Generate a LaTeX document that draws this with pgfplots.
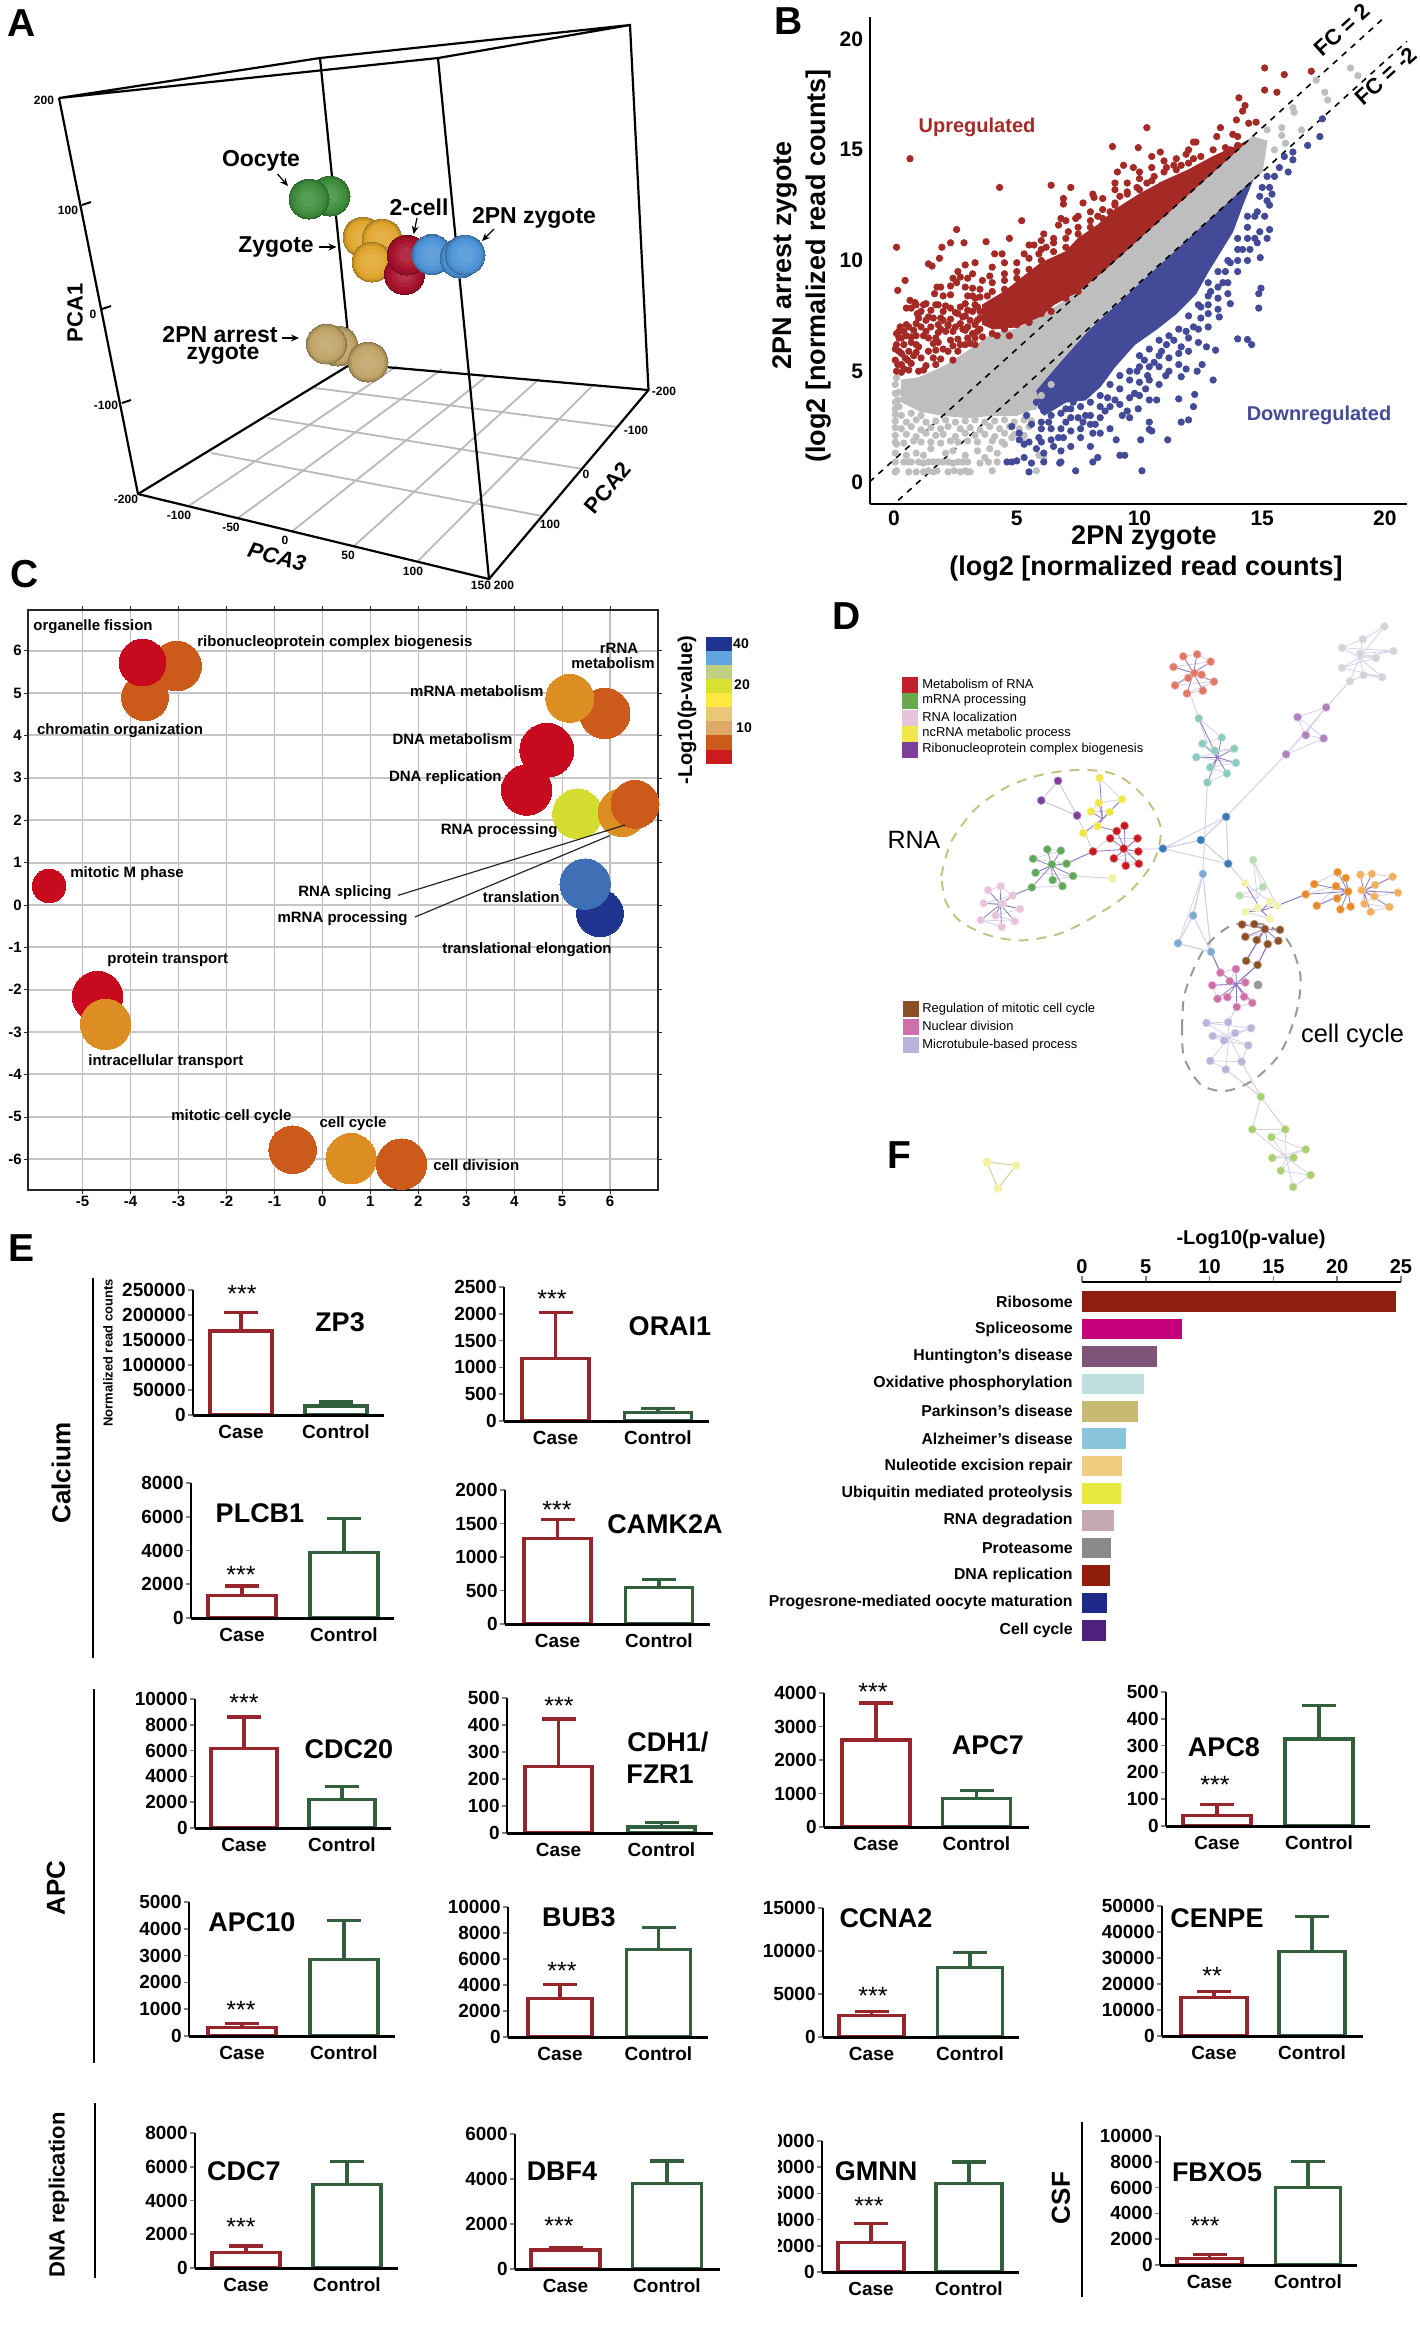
\documentclass[border=0pt]{standalone}
\usepackage{fontspec}
\setmainfont{Liberation Sans}
\usepackage{pgfplots}
\pgfplotsset{compat=1.18}
\usetikzlibrary{arrows.meta,plotmarks}
\definecolor{caseR}{HTML}{96262B}
\definecolor{ctrlG}{HTML}{33603C}
\definecolor{upR}{HTML}{A52A26}
\definecolor{dnB}{HTML}{434A98}
\definecolor{grayP}{HTML}{BEBEBE}
\definecolor{bRed}{HTML}{C70A1E}
\definecolor{bOr}{HTML}{CC5A1A}
\definecolor{bAm}{HTML}{DD8E22}
\definecolor{bLi}{HTML}{D4DC30}
\definecolor{bBl}{HTML}{3F6FB5}
\definecolor{bNv}{HTML}{1F348F}
\definecolor{sGr}{HTML}{3E8E3E}
\definecolor{sGo}{HTML}{E0A62E}
\definecolor{sRd}{HTML}{A8112B}
\definecolor{sBl}{HTML}{4E94D8}
\definecolor{sTn}{HTML}{C0A468}
\definecolor{nRed}{HTML}{C8181E}
\definecolor{nGrn}{HTML}{5FA85A}
\definecolor{nPnk}{HTML}{E8C4DA}
\definecolor{nYel}{HTML}{F0E64E}
\definecolor{nPur}{HTML}{7D3F98}
\definecolor{nBlu}{HTML}{3B78B5}
\definecolor{nLbl}{HTML}{7FAAD0}
\definecolor{nSal}{HTML}{E0786A}
\definecolor{nTea}{HTML}{8CCBBE}
\definecolor{nGry}{HTML}{D2D4DA}
\definecolor{nLpu}{HTML}{AE82BE}
\definecolor{nPgr}{HTML}{B8DDB0}
\definecolor{nPye}{HTML}{F2F2A8}
\definecolor{nOra}{HTML}{E88A28}
\definecolor{nLor}{HTML}{F0B060}
\definecolor{nBrn}{HTML}{8C5028}
\definecolor{nMag}{HTML}{D070A8}
\definecolor{nLav}{HTML}{B8B4DA}
\definecolor{nLgr}{HTML}{A8D070}
\definecolor{nDgy}{HTML}{999999}
\definecolor{hubE}{HTML}{8A78C0}
\definecolor{meshE}{HTML}{D4D0E8}
\definecolor{lgRed}{HTML}{C0202A}
\definecolor{lgGrn}{HTML}{6AA84F}
\definecolor{k1}{HTML}{1F348F}\definecolor{k2}{HTML}{5FA6E0}\definecolor{k3}{HTML}{C0D080}\definecolor{k4}{HTML}{D8E030}
\definecolor{k5}{HTML}{FFE840}\definecolor{k6}{HTML}{E8C878}\definecolor{k7}{HTML}{E0A868}\definecolor{k8}{HTML}{CC5A1A}\definecolor{k9}{HTML}{CC1A1E}
\definecolor{f1}{HTML}{8E1E10}\definecolor{f2}{HTML}{C4007A}\definecolor{f3}{HTML}{805478}\definecolor{f4}{HTML}{C0E0E0}
\definecolor{f5}{HTML}{C6BA70}\definecolor{f6}{HTML}{8AC4DC}\definecolor{f7}{HTML}{F0CC80}\definecolor{f8}{HTML}{E8E840}
\definecolor{f9}{HTML}{C4A8B4}\definecolor{f10}{HTML}{8A8A8A}\definecolor{f11}{HTML}{901C0C}\definecolor{f12}{HTML}{1F2A88}\definecolor{f13}{HTML}{50207F}

% 1px of the picture = 0.5pt
\newcommand{\geo}[4]{\def\ax{#1}\def\ay{#2}\def\ar{#3}\def\at{#4}}
\newcommand{\bars}[4]{\pgfmathsetmacro\cc{(#1+#2)/2}\pgfmathsetmacro\tc{(#3+#4)/2}\pgfmathsetmacro\bw{(#2-#1)*0.5}}
% ymax, ticks, case value, case error, control value, control error
\newcommand{\gene}[6]{%
\pgfmathsetmacro\aw{(\ar-\ax)*0.5}\pgfmathsetmacro\ah{(\ay-\at)*0.5}%
\begin{axis}[at={(\ax*0.5pt,-\ay*0.5pt)},anchor=south west,scale only axis,width=\aw pt,height=\ah pt,
  xmin=\ax,xmax=\ar,ymin=0,ymax=#1,ytick={#2},xtick={\cc,\tc},xticklabels={Case,Control},
  axis x line=bottom,axis y line=left,
  x axis line style={-,line width=1.5pt},y axis line style={-,line width=1pt},
  xtick style={draw=none},ytick style={line width=0.8pt},tick align=outside,major tick length=2.5pt,
  scaled y ticks=false,
  yticklabel style={/pgf/number format/fixed,/pgf/number format/1000 sep={},/pgf/number format/assume math mode=true,font=\bfseries\fontsize{9.5}{10}\selectfont,inner sep=1pt},
  xticklabel style={font=\bfseries\fontsize{9.5}{10}\selectfont,inner sep=0pt,yshift=-2.4pt},
  axis on top,clip=false]
\addplot[ybar,bar width=\bw pt,bar shift=0pt,fill=white,draw=caseR,line width=1.6pt,
  error bars/.cd,y dir=plus,y explicit,error bar style={caseR,line width=1.6pt},error mark options={rotate=90,caseR,mark size=8.5pt,line width=1.6pt}]
  coordinates {(\cc,#3) +- (0,#4)};
\addplot[ybar,bar width=\bw pt,bar shift=0pt,fill=white,draw=ctrlG,line width=1.6pt,
  error bars/.cd,y dir=plus,y explicit,error bar style={ctrlG,line width=1.6pt},error mark options={rotate=90,ctrlG,mark size=8.5pt,line width=1.6pt}]
  coordinates {(\tc,#5) +- (0,#6)};
\end{axis}}
\newcommand{\tx}[5][]{\node[inner sep=0pt,#1,font=\bfseries\fontsize{#2}{#2}\selectfont] at (#3,#4) {#5};}
\newcommand{\rg}[5][]{\node[inner sep=0pt,#1,font=\fontsize{#2}{#2}\selectfont] at (#3,#4) {#5};}
\newcommand{\bub}[4]{\addplot[only marks,mark=*,mark size=#2pt,mark options={draw=#1,fill=#1,line width=0pt}] coordinates {(#3,#4)};}
\newcommand{\ballring}[4]{\addplot[only marks,mark=*,mark size=#2pt,mark options={draw=#1,fill=#1,line width=0pt}] coordinates {(#3,#4)};}
\newcommand{\ball}[3]{%
  \ballring{#1!72!black}{10}{#2}{#3}\ballring{#1!82!black}{9.6}{#2}{#3}\ballring{#1!92!black}{9}{#2}{#3}\ballring{#1}{8}{#2}{#3}\ballring{#1!94!white}{6.2}{#2}{#3}\ballring{#1!88!white}{3.8}{#2}{#3}}
\newcommand{\netcl}[4][hubE]{%
  \gdef\edgepts{}\gdef\nodepts{}%
  \foreach \p in {#4}{\xdef\edgepts{\edgepts #2 \p}\xdef\nodepts{\nodepts \p}}%
  \edef\tmp{\noexpand\addplot[meshE,line width=0.4pt] coordinates {\nodepts};\noexpand\addplot[#1,line width=0.4pt] coordinates {\edgepts};\noexpand\addplot[only marks,mark=*,mark size=2pt,mark options={draw=#3!60!white,line width=0.3pt,fill=#3}] coordinates {\nodepts};}\tmp}
\newcommand{\lnk}[1]{\addplot[meshE,line width=0.5pt] coordinates {#1};}
\newcommand{\sq}[3]{\addplot[only marks,mark=square*,mark size=3.75pt,mark options={draw=#1,fill=#1,line width=0pt}] coordinates {(#2,#3)};}

\begin{document}
\begin{tikzpicture}
\useasboundingbox (0,0) rectangle (710pt,-1163pt);

% canvas in picture pixels: panel A and the colour key of panel C
\begin{axis}[at={(0,-1163pt)},anchor=south west,scale only axis,width=710pt,height=1163pt,
  xmin=0,xmax=1420,ymin=0,ymax=2326,y dir=reverse,axis lines=none,clip=false]
\addplot[gray!55,line width=0.9pt] coordinates {(190,505)(397,366)};
\addplot[gray!55,line width=0.9pt] coordinates {(238,518)(442,369)};
\addplot[gray!55,line width=0.9pt] coordinates {(292.5,531)(487.5,375.5)};
\addplot[gray!55,line width=0.9pt] coordinates {(354,546)(539,379)};
\addplot[gray!55,line width=0.9pt] coordinates {(417,562)(593,385)};
\addplot[gray!55,line width=0.9pt] coordinates {(315,388)(618,427)};
\addplot[gray!55,line width=0.9pt] coordinates {(267.6,418)(583,469)};
\addplot[gray!55,line width=0.9pt] coordinates {(211,453)(542,516)};
\addplot[black,line width=1.1pt] coordinates {(59,98)(138,494)(489,579)(648.5,390)(630,25)(320,58)(59,98)(438,58)(630,25)};
\addplot[black,line width=1.1pt] coordinates {(320,58)(351,364)(138,494)};
\addplot[black,line width=1.1pt] coordinates {(351,364)(648.5,390)};
\addplot[black,line width=1.1pt] coordinates {(438,58)(489,579)};
\addplot[black,line width=1pt] coordinates {(82,205)(91,202)};
\addplot[black,line width=1pt] coordinates {(102,309)(111,306)};
\addplot[black,line width=1pt] coordinates {(122,403)(131,400)};
\ball{sGr}{330}{196}
\ball{sGr}{309}{199}
\ball{sGo}{363}{237}
\ball{sGo}{382}{239}
\ball{sGo}{372}{262}
\ball{sRd}{404.5}{274.5}
\ball{sRd}{407}{255}
\ball{sBl}{432}{254.5}
\ball{sBl}{460}{258}
\ball{sBl}{465}{255}
\ball{sTn}{338}{346}
\ball{sTn}{326.5}{344}
\ball{sTn}{368}{362}
% colour key C
\addplot[fill=k1,draw=none] coordinates {(706,637)(732,637)(732,651)(706,651)};
\addplot[fill=k2,draw=none] coordinates {(706,651)(732,651)(732,665)(706,665)};
\addplot[fill=k3,draw=none] coordinates {(706,665)(732,665)(732,679)(706,679)};
\addplot[fill=k4,draw=none] coordinates {(706,679)(732,679)(732,693)(706,693)};
\addplot[fill=k5,draw=none] coordinates {(706,693)(732,693)(732,707)(706,707)};
\addplot[fill=k6,draw=none] coordinates {(706,707)(732,707)(732,721)(706,721)};
\addplot[fill=k7,draw=none] coordinates {(706,721)(732,721)(732,735)(706,735)};
\addplot[fill=k8,draw=none] coordinates {(706,735)(732,735)(732,750)(706,750)};
\addplot[fill=k9,draw=none] coordinates {(706,750)(732,750)(732,764)(706,764)};
\end{axis}

% panel B
\begin{axis}[at={(870*0.5pt,-504*0.5pt)},anchor=south west,scale only axis,width=268.5pt,height=243.5pt,
  xmin=-0.98,xmax=20.9,ymin=-1,ymax=21,xtick={0,5,...,20},ytick={0,5,...,20},
  axis x line=bottom,axis y line=left,axis line style={-,line width=1.1pt},major tick length=0pt,
  tick label style={/pgf/number format/assume math mode=true,font=\bfseries\fontsize{10.5}{11}\selectfont},clip=false]
\addplot[fill=grayP,draw=grayP] coordinates {(0.3,3.6)(0.3,4.6)(1,4.7)(2,5.2)(3,5.9)(4,6.7)(5,6.9)(6,7.5)(7,8.2)(8,9)(14.6,15.6)(15.2,15.4)(15,14)(8,7)(6.8,5.3)(6,4)(5.7,3.3)(5,3)(4,3)(3,2.9)(2,3)(1,3.2)};
\addplot[only marks,mark=*,mark size=1.6pt,grayP] coordinates {
(0.05,0.45)(0.1,0.5)(0.6,0.45)(0.9,0.45)(1.2,0.45)(1.4,0.5)(1.6,0.45)(1.75,0.5)(2.2,0.45)(2.45,0.5)(2.7,0.45)(2.9,0.5)(3,0.45)(3.1,0.45)(4,0.5)
(0.05,0.9)(0.4,0.9)(0.6,0.9)(0.7,0.9)(1,0.9)(1.2,0.85)(1.4,0.9)(1.6,0.9)(1.8,0.9)(2,0.9)(2.2,0.9)(2.4,0.85)(2.6,0.9)(2.8,0.9)(3,0.9)(3.5,0.85)(3.85,0.9)(4.2,0.9)(5.8,0.5)
(0.05,1.3)(0.1,1.7)(0.5,1.2)(0.9,1.3)(1.2,1.2)(1.5,1.5)(2.1,1.3)(2.4,1.4)(2.9,1.2)(3.4,1.4)(3.7,1.1)(3.9,1.5)(4.2,1.3)(4.5,1.7)(4.8,2)(5.2,1.9)(5.9,1.2)(6.1,1.1)
(0.05,1.8)(0.4,1.75)(0.8,1.85)(1.1,1.8)(1.5,1.8)(1.9,1.75)(2.3,1.85)(2.6,1.8)(3,1.85)(3.4,1.8)(4,1.85)(4.4,1.8)
(0.05,2.1)(0.5,2.15)(0.9,2.05)(1.3,2.2)(1.7,2.1)(2,2.15)(2.5,2.05)(2.9,2.2)(3.3,2.1)(3.7,2.15)(4.1,2.05)(4.5,2.2)(4.9,2.15)(5.3,2.1)
(0.05,2.45)(0.3,2.4)(0.7,2.5)(1.1,2.35)(1.5,2.45)(1.9,2.4)(2.2,2.5)(2.7,2.4)(3.1,2.45)(3.5,2.35)(3.9,2.5)(4.3,2.4)(4.7,2.5)(5.1,2.4)(5.5,2.5)
(0.05,2.75)(0.5,2.7)(0.9,2.8)(1.3,2.7)(1.7,2.75)(2.1,2.8)(2.5,2.7)(2.9,2.75)(3.3,2.8)(3.7,2.7)(4.1,2.75)(4.5,2.8)(4.9,2.7)(5.3,2.8)(5.6,2.75)
(0.05,3.05)(0.3,3)(0.7,3.1)(1.1,3)(0.05,3.3)(0.2,3.4)(0.05,3.6)(0.15,3.7)(0.05,4)(0.2,4.05)(0.05,4.4)(0.1,4.7)(5.7,3.4)(6,3.9)(6.4,4.4)
(15.2,15.9)(15.8,16)(15.8,15.65)(15.95,15.3)(15.5,15)(14.8,15.3)(16.25,16.9)(16.3,16.7)(16.6,15.9)(17.2,18.15)(17.55,17.6)(17.67,17.25)(18.6,18.7)(18.9,18.35)};
\addplot[fill=upR,draw=upR] coordinates {(3.6,7.1)(3.6,8)(4.5,8.6)(5.3,9.3)(6,9.9)(7,10.4)(7.5,11)(8.3,11.6)(9,12.3)(10,13)(11,13.6)(12,14.1)(13,14.7)(14.4,15.4)(8.5,9.5)(7.5,8.6)(6.5,8)(6,7.5)(5,7)(4,6.9)};
\addplot[only marks,mark=*,mark size=1.6pt,upR] coordinates {
(0.65,14.6)(4.3,13.3)(0.1,10.6)(0.45,9.1)(0.15,8.65)(2.55,11.4)(2.3,10.8)(1.95,10.6)(2.85,10.8)(1.85,10.1)(1.4,9.85)(1.55,9.75)(3.75,10.85)(4.7,11)(5.2,11.8)(6.4,13.4)(7.2,13.3)(6.9,12.8)(6.9,12.55)(7.7,12.6)(8.1,13)(8.15,12.85)(8.9,15.15)(9.95,15.1)(10.3,16)(9.1,14)(9.35,14.3)(9.75,14.2)(10.5,14.7)(10.85,14.9)(12.2,15.35)(12.3,15.35)(13.3,16)(13.95,16.35)(14.05,17.35)(14.3,17)(14.2,16.75)(14.45,16.2)(14.75,16.25)(15.1,18.7)(15.1,17.7)(15.6,17.6)(15.9,18.4)(17,18.55)(13.15,15.6)(13.8,15.7)(14,15.6)
(0.05,5.5)(0.05,6)(0.1,6.7)(0.2,6.8)(0.25,7)(0.2,6.5)(0.4,6.2)(0.5,6.6)(0.6,7)(0.5,7.85)(0.7,7.85)(0.65,8.2)(0.85,8.1)(0.95,7.6)(1.1,7)(1.2,6.6)(1,6.1)(0.8,5.7)(0.55,5.5)(0.3,5.3)(0.4,5.1)(1.1,5.6)(1.4,5.9)(1.4,6.5)(1.5,7)(1.6,7.4)(1.7,8)(1.65,8.5)(1.75,8.8)(2,7.3)(2.1,6.8)(2.3,6.4)(2.2,5.9)(2.5,7)(2.6,7.6)(2.7,7.9)(2.3,7.85)(2.9,7.5)(3,7)(3.2,7.7)(3.4,7.9)(2.55,9)(2.6,9.5)(2.9,9.8)(3.2,9.4)(3.3,9.9)(3.5,8.7)(3.6,9.1)(3.9,9.3)(4,9.7)(4.1,10.3)(4.4,10.3)(4.5,9.4)(3.8,8.4)(4.5,8.7)(5,9.5)(5.3,10.3)(5.5,10.7)(5.7,10.7)(5.9,10.3)(6.2,10.6)(6.5,11)(6.1,11.2)(6.7,11.6)(6.8,11.9)(7,11.8)(7.1,11.3)(7.5,11.2)(7.4,11.9)(8,11.5)(8.3,12)(8.5,12.3)(8.8,12.2)(9,12.6)(9.2,12.9)(9.5,13)(9.9,13.3)(10,13.7)(10.3,13.5)(10.6,13.8)(10.9,13.4)(11.1,14.2)(11.4,14.3)(11.7,14.3)(11.9,14.8)(12.2,14.6)(12.5,14.2)(12.9,14.3)(13.2,14.5)(13.5,14.8)(13.7,15)(14,15.2)(2,6)(3,6.5)(3.5,6.9)(4,7.2)(4.2,6.6)(4.7,6.6)(5,7.1)(5.5,7.2)(1.8,6.3)(2.7,6.2)(3.2,6.7)(3.4,7.3)(0.9,6.6)(1.3,7.3)(0.3,5.8)(0.7,6.3)(2.4,5.5)(2.8,6.9)(3.1,7.3)(2.2,7.1)(1.9,6.9)(1.2,8)(3.9,8)(3.3,8.3)(3,8.4)
(0.1,5)(0.3,4.95)(0.6,5.05)(1,5)(1.2,5.05)(0.15,5.3)(0.7,5.35)(1.3,5.25)(1.7,5.3)(0.45,5.6)(1.6,5.6)(1.9,5.55)(0.2,5.9)(0.6,5.9)(0.9,5.85)(1.7,5.95)(2.6,5.9)(0.1,6.2)(0.9,6.2)(1.6,6.25)(2.4,6.15)(2.9,6.2)(3.1,6.25)(0.3,6.5)(0.7,6.55)(1.7,6.5)(2.6,6.45)(3.3,6.5)(3.6,6.55)(0.4,6.8)(0.8,6.85)(1.3,6.8)(1.8,6.75)(2.4,6.8)(2.9,6.85)(3.4,6.8)(0.5,7.1)(0.9,7.15)(1.8,7.1)(2.2,7.05)(2.7,7.15)(3.3,7.1)(1,7.4)(1.4,7.45)(1.9,7.4)(2.3,7.35)(2.8,7.45)(3.5,7.4)(1.1,7.7)(1.5,7.75)(2,7.7)(2.5,7.65)(3,7.75)(3.5,7.7)(0.9,8)(1.3,8.05)(1.8,8)(2.1,7.95)(2.9,8.05)(3.3,8)(2,8.4)(2.3,8.45)(3.2,8.4)(3.5,8.35)(1.9,8.8)(2.3,8.85)(2.9,8.8)(3.2,8.75)(2.4,9.2)(2.7,9.25)(3,9.2)
(4,8.6)(4,9)(4.5,9.1)(4.5,9.9)(5,9.2)(5,9.9)(5.5,9.6)(5.5,10.1)(6,10)(6,10.5)(6,10.9)(6.5,10.4)(6.5,10.8)(7,10.6)(7,11)(7.5,11.5)(7.5,12)(8,11.8)(8,12.2)(8.5,11.9)(8.5,12.8)(9,12.5)(9,13.2)(9,13.5)(9.5,13.1)(9.5,13.5)(10,13.2)(10,14)(10.5,13.6)(10.5,14.2)(11,14)(11,14.5)(11.5,14.1)(11.5,14.6)(12,14.4)(12,15)(12.5,14.7)(13,15)(13.5,15.1)
(3.3,6.2)(4,6.7)(4.5,6.9)(5.5,7.25)(6,7.6)(6.4,7.7)(7,8.3)(7.5,8.6)};
\addplot[fill=dnB,draw=dnB] coordinates {(5.8,4.1)(6.8,5.4)(8,6.9)(14.6,13.6)(14.2,12.5)(13.8,11.3)(13.3,10.4)(12.8,9.5)(12.3,8.5)(11.5,7.6)(10.7,6.9)(9.8,6.2)(9,5.2)(8.4,4.3)(7.8,3.7)(7,3.6)(6.4,3.2)(6.1,3)};
\addplot[only marks,mark=*,mark size=1.6pt,dnB] coordinates {
(14,6.46)(14.4,6.43)(14.57,6.2)(14.86,7.85)(14.86,8.5)(14.95,8.75)(14.92,10.13)(15.3,11.4)(17.35,15.6)(17.45,16.4)(16.85,15.2)(16.25,14.9)(16.25,14.55)(16.06,14)(15.9,14.7)(13,4.6)(13.1,5.95)(12.73,6.1)(13.7,8.05)(13.25,7.45)(11.15,1.9)(10.1,0.5)(7.4,0.5)(5.5,0.45)(12,2.8)(11.7,2.7)(12.2,3.4)(11.6,3.75)(12.25,3.95)(10.4,2.7)(10.4,2.37)(10.5,2.3)(10.05,1.9)(9.05,1.9)(9.4,1.2)(9.2,1.2)(8.1,0.9)(8.3,1.1)(10.7,3.7)(10.4,3.7)(9.95,3.3)(10.25,4.2)(10.33,4.8)(11.07,4.8)(11.7,4.75)(11.9,5.1)(12.35,5)(12.55,5.3)
(4.6,0.9)(4.8,0.9)(5,0.95)(5.3,1.1)(5.6,0.85)(6.1,0.9)(6.75,0.85)(6.8,0.9)(6.1,1.3)(6.5,1.6)(5.8,1.5)(5.3,1.7)(5.1,1.9)(5.5,1.8)(4.8,2.5)(5.1,2.2)(5.9,2)(6,2.4)(6.3,2.7)(6.7,2)(6.9,2)(7.2,2.3)(7,2.7)(7.5,2.9)(7.7,2.7)(7.8,3)(8,3)(8.4,2.9)(8.1,2.2)(8.2,2.6)(8.6,3.2)(8.7,3.8)(9,3.7)(9.3,3)(9.5,3.2)(9.6,3.8)(9.8,4)(6.1,3.2)(6.5,3.5)(7,3.3)(7.3,3.6)(9.9,5)(10.2,5.5)(10.6,5.4)(10.9,5.9)(11.1,6.2)(11.4,6.4)(11.7,6.1)(11.9,6.8)(12.2,7)(12.5,7.4)(12.5,7.9)(12.8,8)(12.9,8.6)(13.2,8.3)(13.4,9)(13.5,9.5)(13.7,9.9)(14,10)(14.2,10.5)(14.5,10.5)(14.7,11)(14.9,11.3)(15.1,12)(15.3,12.5)(15.4,13)(14.4,11.5)(14.7,12)(14.9,12.9)(15,13.3)(15.3,13.3)(15.5,13.8)(15.7,14.2)
(6,1.8)(6,2.7)(6,3.4)(6.4,1.9)(6.4,2.4)(6.4,3)(6.8,1.4)(6.8,2.4)(6.8,3.1)(7.2,1.6)(7.2,2.9)(7.2,3.3)(7.6,2)(7.6,2.4)(7.6,3.4)(8,1.6)(8,2.6)(8,3.6)(8.4,2.2)(8.4,3.4)(8.4,3.9)(8.8,2.4)(8.8,3.4)(8.8,4.4)(9.2,3.5)(9.2,4.2)(9.2,4.8)(9.6,2.9)(9.6,4.6)(9.6,5)(10,3.9)(10,4.5)(10,5.2)(10,5.7)(10.4,4.6)(10.4,5.2)(10.4,6)(10.8,4.4)(10.8,5.2)(10.8,5.7)(10.8,6.4)(11.2,5)(11.2,5.6)(11.2,6.6)(11.6,5.3)(11.6,5.8)(11.6,6.9)(12,5.9)(12,6.5)(12,7.5)(12.4,6.3)(12.4,6.9)(12.4,8)(12.8,7)(12.8,7.6)(12.8,8.4)(12.8,9)(13.2,7.8)(13.2,8.8)(13.2,9.5)(13.6,8.5)(13.6,9)(13.6,10)(14,9.5)(14,10.5)(14,11)(14.4,10)(14.4,11)(14.4,12)(14.8,10.8)(14.8,12.2)(15.2,11)(15.2,12.7)(15.2,13.8)(5.8,3.6)(5.4,3)(5.6,2.6)};
\addplot[black,dashed,line width=0.8pt] coordinates {(-1,0)(19.94,20.94)};
\addplot[black,dashed,line width=0.8pt] coordinates {(0.17,-0.83)(20.9,19.9)};
\end{axis}

% panel C
\begin{axis}[at={(28*0.5pt,-1190*0.5pt)},anchor=south west,scale only axis,width=315pt,height=290pt,
  xmin=-6.14,xmax=7,ymin=-6.73,ymax=6.96,xtick={-5,...,6},ytick={-6,...,6},
  grid=major,x grid style={gray!50,line width=0.6pt},y grid style={gray!45,line width=1pt},axis line style={gray!30!black,line width=0.9pt},
  tick align=outside,major tick length=2pt,tick style={gray!30!black},
  tick label style={/pgf/number format/assume math mode=true,font=\bfseries\fontsize{7.5}{8}\selectfont,inner sep=1pt},clip=false]
\bub{bOr}{11.7}{-3.70}{4.90}
\bub{bOr}{12.4}{-3.04}{5.64}
\bub{bRed}{11.7}{-3.75}{5.72}
\bub{bRed}{8.4}{-5.70}{0.45}
\bub{bRed}{12.6}{-4.69}{-2.16}
\bub{bAm}{12.6}{-4.52}{-2.82}
\bub{bOr}{11.9}{-0.62}{-5.78}
\bub{bAm}{12.6}{0.60}{-5.99}
\bub{bOr}{12.6}{1.65}{-6.12}
\bub{bOr}{12.6}{5.89}{4.52}
\bub{bAm}{12}{5.16}{4.875}
\bub{bRed}{13.5}{4.68}{3.65}
\bub{bRed}{12.6}{4.26}{2.71}
\bub{bLi}{12.4}{5.32}{2.15}
\bub{bAm}{12}{6.25}{2.18}
\bub{bOr}{12}{6.52}{2.375}
\bub{bNv}{11.7}{5.79}{-0.20}
\bub{bBl}{12.6}{5.48}{0.49}
\end{axis}

% panel D, in coordinates of a 640 px square
\begin{axis}[at={(780*0.5pt,-1220*0.5pt)},anchor=south west,scale only axis,width=320pt,height=320pt,
  xmin=0,xmax=1568,ymin=0,ymax=1568,y dir=reverse,axis lines=none,clip=false]
\lnk{(938,658)(1031,637)(1093,580)(1098,695)(1031,637)}
\lnk{(938,658)(1098,695)(1139,743)}
\lnk{(938,658)(1093,580)(1240,427)(1338,312)(1396,248)}
\lnk{(1005,280)(1026,339)(1047,400)}
\lnk{(1047,496)(1036,720)(1056,911)(975,890)(1012,822)(1036,720)}
\lnk{(1012,822)(1056,911)(1079,962)}
\lnk{(1092,1199)(1178,1266)(1157,1346)}
\lnk{(1131,1180)(1178,1266)(1238,1346)}
\lnk{(617,753)(570,773)}
\lnk{(702,695)(767,665)(728,577)(681,492)(640,540)(728,577)}
\lnk{(880,660)(938,658)}
\lnk{(718,725)(814,731)}
\lnk{(1218,798)(1159,686)}
\lnk{(1119,1046)(1098,1083)}
\addplot[hubE,line width=0.6pt] coordinates {(1142,933)(1188,855)};
\addplot[hubE,line width=0.6pt] coordinates {(1170,943)(1195,892)};
\addplot[hubE,line width=0.6pt] coordinates {(1170,943)(1117,990)};
\addplot[hubE,line width=0.5pt] coordinates {(1218,798)(1288,770)};
\addplot[hubE,line width=0.5pt] coordinates {(1056,911)(1079,962)};
\addplot[hubE,line width=0.4pt] coordinates {(702,695)(767,665)};
\addplot[hubE,line width=0.4pt] coordinates {(617,753)(570,773)};
\addplot[hubE,line width=0.4pt] coordinates {(778,603)(825,615)};
\netcl{(845,660)}{nRed}{(767,665),(825,615),(844,602),(809,633),(876,633),(842,658),(878,665),(818,682),(879,695),(847,700)}
\netcl{(665,700)}{nGrn}{(655,660),(688,663),(620,683),(702,695),(666,697),(626,717),(718,725),(668,735),(692,750),(617,753)}
\netcl{(540,795)}{nPnk}{(510,760),(541,750),(570,773),(499,792),(545,793),(588,806),(528,822),(575,836),(492,833),(543,850)}
\netcl{(790,585)}{nYel}{(783,485),(838,537),(781,546),(762,567),(808,568),(778,603),(743,620)}
\netcl[meshE]{(728,577)}{nPur}{(681,492),(640,540),(728,577)}
\netcl[meshE]{(1031,637)}{nBlu}{(938,658),(1031,637),(1093,580),(1098,695)}
\netcl[meshE]{(1036,720)}{nLbl}{(1036,720),(1012,822),(975,890),(1056,911)}
\netcl{(1013,228)}{nSal}{(988,187),(1022,182),(1055,200),(964,213),(1015,228),(1033,232),(1000,240),(968,258),(1063,249),(997,278),(1036,271)}
\netcl{(1072,435)}{nTea}{(1026,339),(1082,386),(1035,401),(1065,418),(1113,413),(1020,434),(1117,448),(1054,459),(1095,474),(1047,496)}
\netcl[meshE]{(1420,190)}{nGry}{(1481,114),(1428,145),(1377,166),(1503,174),(1422,180),(1460,191),(1377,215),(1475,238),(1430,233),(1396,248)}
\netcl[meshE]{(1300,360)}{nLpu}{(1338,312),(1268,336),(1288,380),(1332,388),(1240,427)}
\netcl[meshE]{(1170,780)}{nPgr}{(1159,686),(1183,752),(1126,773)}
\netcl{(1180,810)}{nPye}{(1139,743),(1200,788),(1218,798),(1170,803),(1140,813),(1200,830)}
\netcl{(1392,763)}{nOra}{(1366,716),(1309,745),(1288,770),(1362,750),(1392,763),(1386,730),(1315,798),(1365,780),(1373,807),(1398,800)}
\netcl{(1430,762)}{nLor}{(1422,722),(1450,720),(1501,727),(1458,747),(1425,760),(1514,766),(1456,775),(1432,793),(1493,801),(1447,813)}
\netcl{(1188,855)}{nBrn}{(1132,844),(1162,843),(1188,855),(1225,857),(1140,874),(1168,882),(1195,892),(1221,884)}
\netcl[meshE]{(1156,938)}{nBrn}{(1142,933),(1170,943)}
\netcl{(1118,990)}{nMag}{(1079,962),(1117,953),(1102,983),(1140,986),(1059,993),(1072,1026),(1096,1022),(1137,1021),(1157,1036),(1119,1046)}
\netcl[meshE]{(1100,1120)}{nLav}{(1098,1083),(1045,1085),(1154,1098),(1115,1110),(1060,1117),(1088,1128),(1147,1140),(1131,1180),(1054,1178),(1092,1199)}
\netcl[meshE]{(1240,1415)}{nLgr}{(1157,1346),(1238,1346),(1204,1365),(1288,1395),(1206,1416),(1258,1415),(1227,1447),(1300,1458),(1257,1487)}
\addplot[only marks,mark=*,mark size=2pt,mark options={draw=nLgr!60!white,line width=0.3pt,fill=nLgr}] coordinates {(1178,1266)};
\addplot[only marks,mark=*,mark size=2pt,mark options={draw=nDgy,fill=nDgy}] coordinates {(1171,992)};
\addplot[only marks,mark=*,mark size=2pt,mark options={draw=nYel!50!white,line width=0.3pt,fill=nPye}] coordinates {(814,731)};
\addplot[nPye!70!gray,line width=0.5pt,mark=*,mark size=2pt,mark options={draw=nYel!50!white,line width=0.3pt,fill=nPye}] coordinates {(507,1426)(578,1434)(534,1491)(507,1426)};
\addplot[smooth,dashed,dash pattern=on 5pt off 4pt,color=brown!40!yellow!50!gray!70!white,line width=1pt] coordinates {(395,725)(420,640)(480,560)(560,505)(650,475)(745,465)(830,480)(900,540)(933,610)(915,690)(850,770)(760,830)(680,868)(590,883)(510,870)(440,835)(405,785)(395,725)};
\addplot[smooth,dashed,dash pattern=on 5pt off 4pt,color=gray!80,line width=1pt] coordinates {(985,1100)(990,1020)(1015,950)(1050,890)(1110,845)(1190,845)(1245,885)(1275,970)(1265,1060)(1225,1160)(1160,1225)(1090,1252)(1030,1235)(990,1170)(985,1100)};
\sq{lgRed}{318}{257}
\sq{lgGrn}{318}{297}
\sq{nPnk}{318}{337}
\sq{nYel}{318}{377}
\sq{nPur}{318}{416}
\sq{nBrn}{322}{1052}
\sq{nMag}{322}{1094}
\sq{nLav}{322}{1140}
\end{axis}

% panel F
\begin{axis}[at={(1082*0.5pt,-1650*0.5pt)},anchor=south west,scale only axis,width=159.5pt,height=184pt,
  xmin=0,xmax=25,ymin=-0.72,ymax=12.72,y dir=reverse,
  xtick={0,5,...,25},ytick={0,...,12},
  yticklabels={Ribosome,Spliceosome,Huntington's disease,Oxidative phosphorylation,Parkinson's disease,Alzheimer's disease,Nuleotide excision repair,Ubiquitin mediated proteolysis,RNA degradation,Proteasome,DNA replication,Progesrone-mediated oocyte maturation,Cell cycle},
  axis x line*=top,axis y line*=left,y axis line style={draw=none},x axis line style={-,line width=1pt},
  ytick style={draw=none},xtick style={line width=0.8pt},xtick align=outside,major tick length=3pt,
  xticklabel style={/pgf/number format/assume math mode=true,font=\bfseries\fontsize{10}{11}\selectfont,inner sep=1pt},
  yticklabel style={font=\bfseries\fontsize{7.9}{8}\selectfont,inner sep=1.5pt},
  xbar,bar width=10.3pt,bar shift=0pt,clip=false]
\addplot[fill=f1,draw=none] coordinates {(24.6,0)};
\addplot[fill=f2,draw=none] coordinates {(7.87,1)};
\addplot[fill=f3,draw=none] coordinates {(5.9,2)};
\addplot[fill=f4,draw=none] coordinates {(4.89,3)};
\addplot[fill=f5,draw=none] coordinates {(4.38,4)};
\addplot[fill=f6,draw=none] coordinates {(3.41,5)};
\addplot[fill=f7,draw=none] coordinates {(3.15,6)};
\addplot[fill=f8,draw=none] coordinates {(3.08,7)};
\addplot[fill=f9,draw=none] coordinates {(2.54,8)};
\addplot[fill=f10,draw=none] coordinates {(2.31,9)};
\addplot[fill=f11,draw=none] coordinates {(2.21,10)};
\addplot[fill=f12,draw=none] coordinates {(1.94,11)};
\addplot[fill=f13,draw=none] coordinates {(1.87,12)};
\end{axis}

% panel E
\geo{193}{1415}{384}{1290}\bars{210}{272}{304}{368}\gene{250000}{0,50000,100000,150000,200000,250000}{168000}{37000}{18000}{8000}
\geo{504}{1421}{709}{1287}\bars{522}{589}{624}{692}\gene{2500}{0,500,1000,1500,2000,2500}{1170}{860}{160}{75}
\geo{191}{1618}{394}{1483}\bars{208}{276}{310}{378}\gene{8000}{0,2000,4000,6000,8000}{1350}{550}{3900}{2000}
\geo{505}{1624}{710}{1490}\bars{524}{591}{625}{693}\gene{2000}{0,500,1000,1500,2000}{1280}{280}{550}{120}
\geo{195}{1828}{391}{1699}\bars{211}{277}{309}{375}\gene{10000}{0,2000,4000,6000,8000,10000}{6150}{2450}{2200}{1050}
\geo{507}{1833}{713}{1698}\bars{525}{592}{628}{695}\gene{500}{0,100,200,300,400,500}{245}{177}{22}{16}
\geo{189}{2036}{395}{1902}\bars{208}{276}{310}{378}\gene{5000}{0,1000,2000,3000,4000,5000}{330}{150}{2850}{1450}
\geo{508}{2037}{708}{1907}\bars{528}{592}{626}{691}\gene{10000}{0,2000,4000,6000,8000,10000}{2950}{1100}{6750}{1700}
\geo{824}{1827}{1029}{1693}\bars{842}{910}{942}{1011}\gene{4000}{0,1000,2000,3000,4000}{2600}{1100}{850}{250}
\geo{1166}{1826}{1370}{1692}\bars{1183}{1251}{1285}{1353}\gene{500}{0,100,200,300,400,500}{38}{42}{325}{125}
\geo{823}{2037}{1019}{1908}\bars{839}{904}{937}{1003}\gene{15000}{0,5000,10000,15000}{2500}{500}{8100}{1700}
\geo{1162}{2036}{1363}{1906}\bars{1181}{1247}{1279}{1345}\gene{50000}{0,10000,20000,30000,40000,50000}{14800}{2200}{32500}{13500}
\geo{195}{2268}{398}{2133}\bars{212}{280}{313}{381}\gene{8000}{0,2000,4000,6000,8000}{900}{400}{4950}{1350}
\geo{515}{2269}{720}{2134}\bars{531}{600}{633}{701}\gene{6000}{0,2000,4000,6000}{850}{100}{3800}{1000}
\geo{822}{2272}{1019}{2141}\bars{838}{904}{936}{1002}\gene{10000}{0,2000,4000,6000,8000,10000}{2250}{1450}{6750}{1650}
\geo{1160}{2265}{1357}{2136}\bars{1177}{1242}{1275}{1341}\gene{10000}{0,2000,4000,6000,8000,10000}{480}{340}{6000}{2000}

% text and rules, in picture pixels
\begin{scope}[x=0.5pt,y=-0.5pt]
\fill[white] (725,2130) rectangle (778,2262);
\draw[line width=1.1pt] (93,1278)--(93,1658);
\draw[line width=1.1pt] (94,1689)--(94,2063);
\draw[line width=1.1pt] (95,2103)--(95,2278);
\draw[line width=1.1pt] (1082,2122)--(1082,2297);
\draw[gray!30!black,line width=0.6pt] (398,895.4)--(625,825);
\draw[gray!30!black,line width=0.6pt] (415,917)--(610,835.5);
\foreach \a/\b/\c/\d in {277.5/174/288/186,319/247/336.5/247,417/218/413.6/234,494/229/482/241,282/338/299/338}
  \draw[-{Stealth[length=4pt,width=3.5pt]},line width=0.6pt] (\a,\b)--(\c,\d);
% panel letters
\tx{19.5}{22}{23}{A}\tx{19.5}{789}{21}{B}\tx{19.5}{25}{574}{C}\tx{19.5}{847}{616}{D}\tx{19.5}{22}{1248}{E}\tx{19.5}{899}{1155}{F}
% A
\tx{6}{44}{100}{200}\tx{6}{68}{210}{100}\tx{6}{93}{314.5}{0}\tx{6}{106}{405}{-100}\tx{6}{126}{499.5}{-200}
\tx{6}{179}{515}{-100}\tx{6}{231}{527}{-50}\tx{6}{285}{540}{0}\tx{6}{348}{555}{50}\tx{6}{413}{571}{100}\tx{6}{481}{585}{150}\tx{6}{504}{585}{200}
\tx{6}{664}{391}{-200}\tx{6}{636}{430}{-100}\tx{6}{586}{474}{0}\tx{6}{550}{524}{100}
\tx[rotate=90]{11}{75}{313}{PCA1}\tx[rotate=-15]{11}{277}{557}{\itshape PCA3}\tx[rotate=50]{11}{608}{488}{PCA2}
\tx{11.5}{261}{161}{Oocyte}\tx{11.5}{276}{247}{Zygote}\tx{11.5}{419}{207}{2-cell}\tx{11.5}{534}{218}{2PN zygote}\tx{11.5}{220}{335}{2PN arrest}\tx{11.5}{223}{354}{zygote}
% B
\tx{10}{977}{127}{\color{upR}Upregulated}\tx{10}{1319}{415}{\color{dnB}Downregulated}
\tx{13.5}{1144}{538}{2PN zygote}\tx{13.5}{1146}{569}{(log2 [normalized read counts]}
\tx[rotate=90]{13.5}{785}{255}{2PN arrest zygote}\tx[rotate=90]{13.5}{819}{266}{(log2 [normalized read counts]}
\tx[rotate=42]{11}{1342}{30}{FC = 2}\tx[rotate=42]{11}{1386}{76}{FC = -2}
% C
\tx{7.5}{93}{627}{organelle fission}\tx[anchor=west]{7.5}{197}{643}{ribonucleoprotein complex biogenesis}
\tx{7.5}{120}{731}{chromatin organization}\tx{7.5}{619}{648.5}{rRNA}\tx{7.5}{613}{663}{metabolism}
\tx[anchor=east]{7.5}{544}{691}{mRNA metabolism}\tx[anchor=east]{7.5}{513}{739}{DNA metabolism}\tx[anchor=east]{7.5}{502}{777.5}{DNA replication}
\tx[anchor=east]{7.5}{558}{831}{RNA processing}\tx[anchor=west]{7.5}{70}{874}{mitotic M phase}
\tx[anchor=east]{7.5}{392}{892.5}{RNA splicing}\tx[anchor=east]{7.5}{408}{919}{mRNA processing}\tx[anchor=east]{7.5}{560}{897}{translation}
\tx{7.5}{527}{950}{translational elongation}\tx[anchor=west]{7.5}{107}{960}{protein transport}\tx[anchor=west]{7.5}{88}{1062}{intracellular transport}
\tx[anchor=west]{7.5}{171}{1117}{mitotic cell cycle}\tx{7.5}{353}{1124}{cell cycle}\tx[anchor=west]{7.5}{433}{1165}{cell division}
\tx{7}{741}{644}{40}\tx{7}{742}{685}{20}\tx{7}{744}{728}{10}\tx[rotate=90]{10}{687}{710}{-Log10(p-value)}
% D
\rg[anchor=west]{6.45}{922}{684}{Metabolism of RNA}\rg[anchor=west]{6.45}{922}{700}{mRNA processing}\rg[anchor=west]{6.45}{922}{717}{RNA localization}\rg[anchor=west]{6.45}{922}{733}{ncRNA metabolic process}\rg[anchor=west]{6.45}{922}{749}{Ribonucleoprotein complex biogenesis}
\rg[anchor=west]{6.45}{922}{1009}{Regulation of mitotic cell cycle}\rg[anchor=west]{6.45}{922}{1026}{Nuclear division}\rg[anchor=west]{6.45}{922}{1045}{Microtubule-based process}
\rg{12.5}{914}{840}{RNA}\rg{12.7}{1352.6}{1036}{cell cycle}
% F
\tx{10}{1251}{1239}{-Log10(p-value)}
% E
\tx[rotate=90]{13}{61}{1473}{Calcium}\tx[rotate=90]{13}{56}{1888}{APC}\tx[rotate=90]{11}{59}{2195}{DNA replication}\tx[rotate=90]{13}{1061}{2198}{CSF}
\tx[rotate=90]{6.5}{108}{1353}{Normalized read counts}
\tx{13.5}{340}{1322}{ZP3}\tx{13.5}{670}{1326}{ORAI1}\tx{13.5}{260}{1513}{PLCB1}\tx{13.5}{665}{1524}{CAMK2A}
\tx{13.5}{349}{1749}{CDC20}\tx{13.5}{668}{1742}{CDH1/}\tx{13.5}{660}{1774}{FZR1}\tx{13.5}{252}{1922}{APC10}\tx{13.5}{579}{1917}{BUB3}
\tx{13.5}{988}{1745}{APC7}\tx{13.5}{1224}{1747}{APC8}\tx{13.5}{886}{1918}{CCNA2}\tx{13.5}{1217}{1918}{CENPE}
\tx{13.5}{244}{2171}{CDC7}\tx{13.5}{562}{2171}{DBF4}\tx{13.5}{876}{2171}{GMNN}\tx{13.5}{1217}{2172}{FBXO5}
\foreach \a/\b in {242/1291,552/1296,241/1572,557/1507,244/1700,559/1703,241/2007,562/1968,873/1689,1215/1782,873/1993,241/2224,559/2223,869/2203,1205/2223}
  \rg{12.5}{\a}{\b+3}{***};
\rg{12.5}{1212}{1976}{**}
\end{scope}
\end{tikzpicture}
\end{document}
